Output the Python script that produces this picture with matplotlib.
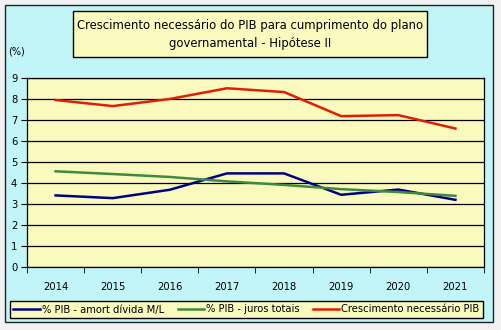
import numpy as np
import matplotlib.pyplot as plt
from matplotlib.patches import Rectangle

plt.rcParams['font.family'] = ['DejaVu Sans']

anos = ['2014', '2015', '2016', '2017', '2018', '2019', '2020', '2021']
amort_divida = [3.40, 3.27, 3.67, 4.45, 4.45, 3.43, 3.68, 3.19]
juros_totais = [4.55, 4.42, 4.28, 4.07, 3.90, 3.70, 3.56, 3.38]
crescimento_pib = [7.95, 7.66, 8.00, 8.51, 8.33, 7.18, 7.23, 6.59]

W, H = 502, 330
fig = plt.figure(figsize=(W / 100, H / 100), dpi=100)
fig.patch.set_facecolor('#f2f2f2')

def box(x0, y0, x1, y1, **kw):
    # rectangle in pixel coords (origin top-left)
    return Rectangle((x0 / W, 1 - y1 / H), (x1 - x0) / W, (y1 - y0) / H,
                     transform=fig.transFigure, **kw)

# fundo do gráfico
fig.patches.append(box(5, 5, 493, 322, facecolor='#c2f5f7', edgecolor='#222222', lw=1.0, zorder=-5))

# caixa do título
fig.patches.append(box(73, 11, 427, 57, facecolor='#fafabe', edgecolor='black', lw=1.0, zorder=1))
fig.text(250 / W, 1 - 34 / H,
         'Crescimento necessário do PIB para cumprimento do plano\ngovernamental - Hipótese II',
         ha='center', va='center', fontsize=8.4, linespacing=1.5, zorder=2)

fig.text(8 / W, 1 - 51 / H, '(%)', fontsize=7, ha='left', va='center')

ax = fig.add_axes([27 / W, 1 - 266.7 / H, (484 - 27) / W, (266.7 - 78) / H])
ax.set_zorder(3)
ax.set_facecolor('#fafabe')
x = np.arange(len(anos))

ax.plot(x, amort_divida, color='#000085', lw=1.8, label='% PIB - amort dívida M/L', zorder=3)
ax.plot(x, juros_totais, color='#3f8a3f', lw=1.8, label='% PIB - juros totais', zorder=3)
ax.plot(x, crescimento_pib, color='#e01e05', lw=1.8, label='Crescimento necessário PIB', zorder=3)

ax.set_xlim(-0.5, 7.5)
ax.set_ylim(0, 9)
ax.set_yticks(range(10))
ax.yaxis.grid(True, color='black', lw=0.9)
ax.set_axisbelow(True)
ax.set_xticks(x)
ax.set_xticklabels(anos)
ax.set_xticks(np.arange(-0.5, 8, 1), minor=True)
ax.tick_params(axis='x', which='major', length=0, pad=11, labelsize=7.2)
ax.tick_params(axis='x', which='minor', length=4, direction='out')
ax.tick_params(axis='y', length=4, direction='out', labelsize=7.2, pad=3)
for s in ax.spines.values():
    s.set_color('black')
    s.set_linewidth(0.9)

leg = fig.legend(loc='lower left', ncol=3, mode='expand',
                 bbox_to_anchor=(10 / W, 1 - 318 / H, 473 / W, 20 / H),
                 fontsize=7.2, handlelength=2.6, handletextpad=0.2,
                 columnspacing=0.8, borderpad=0.35, borderaxespad=0,
                 fancybox=False, framealpha=1)
leg.set_zorder(4)
leg.get_frame().set_facecolor('#fafabe')
leg.get_frame().set_edgecolor('black')
leg.get_frame().set_linewidth(1.0)

fig.savefig('out.png', dpi=100, facecolor=fig.get_facecolor())
